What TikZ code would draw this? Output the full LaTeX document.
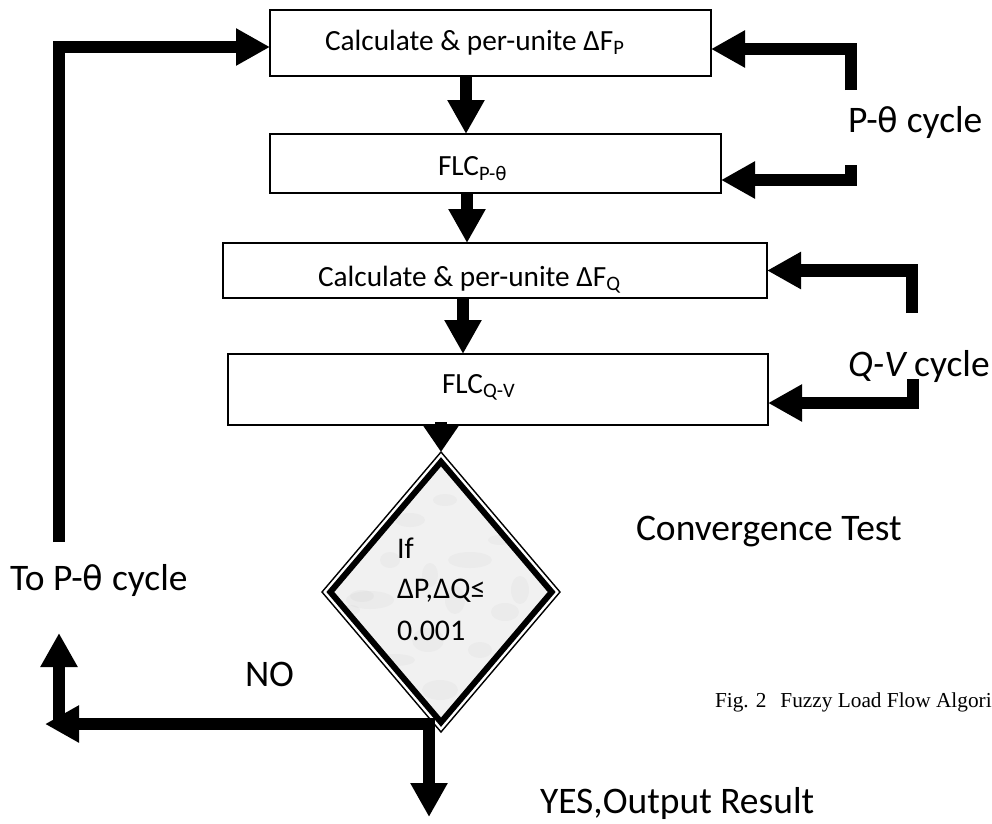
\documentclass[tikz,border=0pt]{standalone}
\usepackage{fontspec}
\setmainfont{Carlito}
\newfontfamily\capfont{Liberation Serif}
\newfontfamily\thetafont[Scale=0.9]{DejaVu Sans}
\newcommand{\thetaglyph}{{\thetafont θ}}
\usetikzlibrary{arrows.meta,shapes.geometric,calc}

\begin{document}
\begin{tikzpicture}[x=1pt,y=-1pt,
  box/.style={draw,line width=1.3pt,inner sep=0pt,outer sep=0pt},
  lbl/.style={anchor=base west,inner sep=0pt,outer sep=0pt},
  big/.style={lbl,font=\fontsize{37.5}{44}\selectfont},
  boxtxt/.style={lbl,font=\fontsize{29.3}{35}\selectfont},
  qtxt/.style={lbl,font=\fontsize{30}{36}\selectfont},
  flow/.style={line width=12.5pt,line join=miter,-{Triangle[length=34pt,width=35pt]}},
  blob/.style={fill=gray!55,opacity=0.1},
]
\useasboundingbox (0,0) rectangle (992,823);

% process boxes
\node[box,minimum width=441pt,minimum height=66pt] (b1) at (490.5,43) {};
\node[box,minimum width=451pt,minimum height=59pt] (b2) at (495.5,163.5) {};
\node[box,minimum width=544pt,minimum height=55pt] (b3) at (495,270.5) {};
\node[box,minimum width=540pt,minimum height=71pt] (b4) at (498,389.5) {};

\node[boxtxt] (t1) at (325,50) {Calculate \& per-unite ΔF\textsubscript{P}};
\node[boxtxt] (t2) at (438,175) {FLC\textsubscript{P-\thetaglyph}};
\node[boxtxt] (t3) at (318,286) {Calculate \& per-unite ΔF\textsubscript{Q}};
\node[boxtxt] (t4) at (442,393) {FLC\textsubscript{Q-V}};

% convergence test diamond with marbled fill
\node[diamond,minimum width=238pt,minimum height=280pt,inner sep=0pt,outer sep=0pt] (test) at (441,592) {};
\coordinate (in-n) at ($(test.center)!0.93!(test.north)$);
\coordinate (in-e) at ($(test.center)!0.93!(test.east)$);
\coordinate (in-s) at ($(test.center)!0.93!(test.south)$);
\coordinate (in-w) at ($(test.center)!0.93!(test.west)$);
\begin{scope}
  \clip (in-n) -- (in-e) -- (in-s) -- (in-w) -- cycle;
  \fill[gray!11] (test.north) -- (test.east) -- (test.south) -- (test.west) -- cycle;
  \foreach \px/\py/\rx/\ry in {370/600/24/9, 362/596/12/6, 428/640/16/12, 470/560/22/8,
      505/612/14/9, 440/690/18/10, 410/520/15/7, 455/600/10/14, 395/660/20/6,
      480/650/12/8, 430/575/8/12, 350/610/10/5, 520/590/9/14, 445/500/12/6,
      415/700/10/5, 470/700/8/9, 390/560/10/8, 500/540/12/5}
    \fill[blob] (\px,\py) ellipse ({\rx} and {\ry});
\end{scope}
\draw[line width=6pt,line join=miter] (in-n) -- (in-e) -- (in-s) -- (in-w) -- cycle;
\draw[line width=1.4pt] (test.north) -- (test.east) -- (test.south) -- (test.west) -- cycle;

\node[qtxt] (q1) at (397,558) {If};
\node[qtxt] (q2) at (397,598) {ΔP,ΔQ≤};
\node[qtxt] (q3) at (397,640) {0.001};

% main flow
\draw[flow] ([xshift=-24.5pt]b1.south) -- ([xshift=-29.5pt]b2.north);
\draw[flow] ([xshift=-28.5pt]b2.south) -- ([xshift=-28pt]b3.north);
\draw[flow] ([xshift=-32pt]b3.south) -- ([xshift=-35pt]b4.north);
\draw[line width=12.5pt,-{Triangle[length=28pt,width=36pt]}]
  ([yshift=3pt]test.north |- b4.south) -- (test.north);

% P-theta cycle feedback
\coordinate (pt1) at (851,90);
\coordinate (pt2) at (851,165);
\draw[flow] (pt1) |- ([yshift=-6pt]b1.east);
\draw[flow] (pt2) |- ([yshift=-16.5pt]b2.east);

% Q-V cycle feedback
\coordinate (qv1) at (912,313);
\coordinate (qv2) at (913,379);
\draw[flow] (qv1) |- (b3.east);
\draw[flow] (qv2) |- ([yshift=-13.5pt]b4.east);

% return path to the P-theta cycle
\coordinate (loopend) at (59,542);
\draw[flow] (loopend) |- ([yshift=-4pt]b1.west);

% decision outputs
\coordinate (split) at (429,724);
\coordinate (noend) at (45,724);
\coordinate (yesend) at (429,817);
\coordinate (upbase) at (59,722);
\coordinate (uptip) at (59,633);
\draw[flow] ([xshift=6pt]split) -- (noend);
\draw[flow] ([yshift=6pt]split) -- (yesend);
\draw[flow] (upbase) -- (uptip);

% labels
\node[big] (lp) at (848,132) {P-\thetaglyph{} cycle};
\node[big] (lq) at (848,376) {\itshape Q-V\upshape{} cycle};
\node[big] (lc) at (636,540) {Convergence Test};
\node[big] (lt) at (10,590) {To P-\thetaglyph{} cycle};
\node[big] (lno) at (245,686) {NO};
\node[big] (lyes) at (540,813) {YES,Output Result};
\node[lbl,font=\capfont\fontsize{21.3}{25}\selectfont] (cap) at (715,707) {Fig. 2\hspace{14pt}Fuzzy Load Flow Algori};
\end{tikzpicture}
\end{document}
